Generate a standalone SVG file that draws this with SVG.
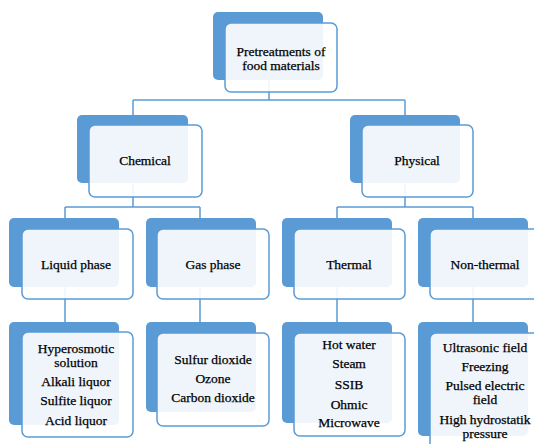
<svg xmlns="http://www.w3.org/2000/svg" width="534" height="444" viewBox="0 0 534 444">
<style>
.bk{fill:#5B9BD5;}
.fr{fill:#fff;fill-opacity:0.9;stroke:#5B9BD5;stroke-width:1.5;}
.cn{fill:none;stroke:#5B9BD5;stroke-width:1.5;}
text{font-family:"Liberation Serif",serif;font-size:13.5px;fill:#000;stroke:#000;stroke-width:0.25;text-anchor:middle;}
</style>
<rect width="534" height="444" fill="#fff"/>
<g id="connectors">
<path class="cn" d="M269,80 V100 M133,100 H405 M133,100 V115 M405,100 V115"/>
<path class="cn" d="M133,183 V207 M65,207 H200 M65,207 V218 M200,207 V218"/>
<path class="cn" d="M405,183 V207 M337,207 H473 M337,207 V218 M473,207 V218"/>
<path class="cn" d="M65,287 V322 M200,287 V322 M337,287 V322 M473,287 V322"/>
</g>
<g id="root">
<rect class="bk" x="213" y="12" width="110" height="68" rx="5"/>
<rect class="fr" x="225" y="23" width="112" height="69" rx="6"/>
<text x="281" y="56">Pretreatments of</text>
<text x="281" y="70">food materials</text>
</g>
<g id="chemical">
<rect class="bk" x="77" y="115" width="111" height="68" rx="5"/>
<rect class="fr" x="89" y="125" width="113" height="72" rx="6"/>
<text x="145" y="165">Chemical</text>
</g>
<g id="physical">
<rect class="bk" x="350" y="115" width="110" height="68" rx="5"/>
<rect class="fr" x="362" y="125" width="111" height="72" rx="6"/>
<text x="417" y="165">Physical</text>
</g>
<g id="liquid">
<rect class="bk" x="9" y="218" width="110" height="69" rx="5"/>
<rect class="fr" x="22" y="229" width="111" height="70" rx="6"/>
<text x="76" y="269">Liquid phase</text>
</g>
<g id="gas">
<rect class="bk" x="146" y="218" width="110" height="69" rx="5"/>
<rect class="fr" x="157" y="229" width="112" height="70" rx="6"/>
<text x="213" y="269">Gas phase</text>
</g>
<g id="thermal">
<rect class="bk" x="282" y="218" width="110" height="69" rx="5"/>
<rect class="fr" x="294" y="229" width="111" height="70" rx="6"/>
<text x="349" y="269">Thermal</text>
</g>
<g id="nonthermal">
<rect class="bk" x="418" y="218" width="110" height="69" rx="5"/>
<rect class="fr" x="430" y="229" width="112" height="70" rx="6"/>
<text x="485" y="269">Non-thermal</text>
</g>
<g id="liquid-items">
<rect class="bk" x="9" y="322" width="110" height="103" rx="5"/>
<rect class="fr" x="22" y="332" width="111" height="105" rx="6"/>
<text x="76" y="353">Hyperosmotic</text>
<text x="76" y="367">solution</text>
<text x="76" y="386">Alkali liquor</text>
<text x="76" y="405">Sulfite liquor</text>
<text x="76" y="425">Acid liquor</text>
</g>
<g id="gas-items">
<rect class="bk" x="146" y="322" width="110" height="90" rx="5"/>
<rect class="fr" x="157" y="333" width="112" height="93" rx="6"/>
<text x="213" y="364">Sulfur dioxide</text>
<text x="213" y="383">Ozone</text>
<text x="213" y="402">Carbon dioxide</text>
</g>
<g id="thermal-items">
<rect class="bk" x="282" y="322" width="110" height="101" rx="5"/>
<rect class="fr" x="294" y="333" width="111" height="103" rx="6"/>
<text x="349" y="349">Hot water</text>
<text x="349" y="368">Steam</text>
<text x="349" y="389">SSIB</text>
<text x="349" y="409">Ohmic</text>
<text x="349" y="427">Microwave</text>
</g>
<g id="nonthermal-items">
<rect class="bk" x="418" y="322" width="110" height="114" rx="5"/>
<rect class="fr" x="430" y="333" width="112" height="120" rx="6"/>
<text x="485" y="352">Ultrasonic field</text>
<text x="485" y="371">Freezing</text>
<text x="485" y="390">Pulsed electric</text>
<text x="485" y="404">field</text>
<text x="485" y="424">High hydrostatik</text>
<text x="485" y="438">pressure</text>
</g>
</svg>
